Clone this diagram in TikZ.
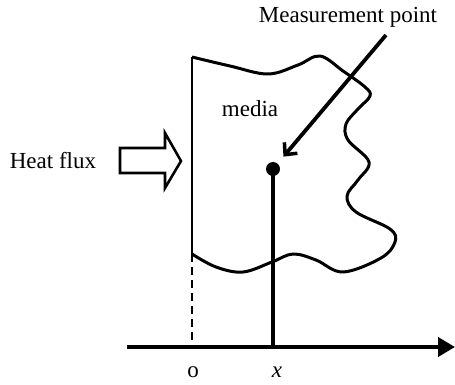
\documentclass[tikz,border=0pt]{standalone}
\usepackage{fontspec}
\setmainfont{Liberation Serif}
\usetikzlibrary{arrows.meta}
\begin{document}
\begin{tikzpicture}[x=1pt,y=-1pt,
  lbl/.style={font=\fontsize{23}{27}\selectfont, inner sep=0pt, anchor=base},
  thin line/.style={line width=2pt},
  curve/.style={line width=3pt, line join=round},
  thick line/.style={line width=3.8pt}]
\useasboundingbox (0,0) rectangle (455,385);
% coordinates
\coordinate (tl) at (192,57);
\coordinate (bl) at (192,254);
\coordinate (o) at (192,347);
\coordinate (axs) at (127,347);
\coordinate (axe) at (455,347);
\coordinate (xb) at (273,347);
\coordinate (ms) at (386,35);
\node[circle, fill=black, minimum size=14pt, inner sep=0pt] (dot) at (273,169) {};
% medium outline
\draw[thin line] (bl) -- (tl);
\draw[curve] plot[smooth, tension=0.6] coordinates {
  (192,57) (230,66) (268,74) (298,65) (320,56) (343,71) (365,87) (370,96)
  (358,109) (346,124) (348,140) (369,162) (358,180) (347,196) (356,212)
  (390,229) (395,242) (381,258) (343,272) (316,260) (293,254) (272,262)
  (243,272) (216,267) (192,254)};
\draw[line width=2.6pt, dash pattern=on 8pt off 5pt] (bl) -- (o);
% axis
\draw[thick line, -{Triangle[length=17pt,width=19pt]}] (axs) -- (axe);
\draw[thick line] (dot.center) -- (xb);
% measurement arrow
\draw[thick line, -{Straight Barb[length=9pt,width=17pt,line width=3.5pt]}, shorten >=9pt] (ms) -- (dot);
% heat flux block arrow
\draw[line width=2.6pt, line join=miter] (120,148) -- (165,148) -- (165,133) -- (181,161)
  -- (165,188) -- (165,173) -- (120,173) -- cycle;
% labels
\node[lbl] (mlab) at (348,23) {Measurement point};
\node[lbl] (media) at (250,117) {media};
\node[lbl] (heat) at (53,168) {Heat flux};
\node[lbl] (olab) at (193,377) {o};
\node[lbl] (xlab) at (277,377) {\itshape x};
\end{tikzpicture}
\end{document}
